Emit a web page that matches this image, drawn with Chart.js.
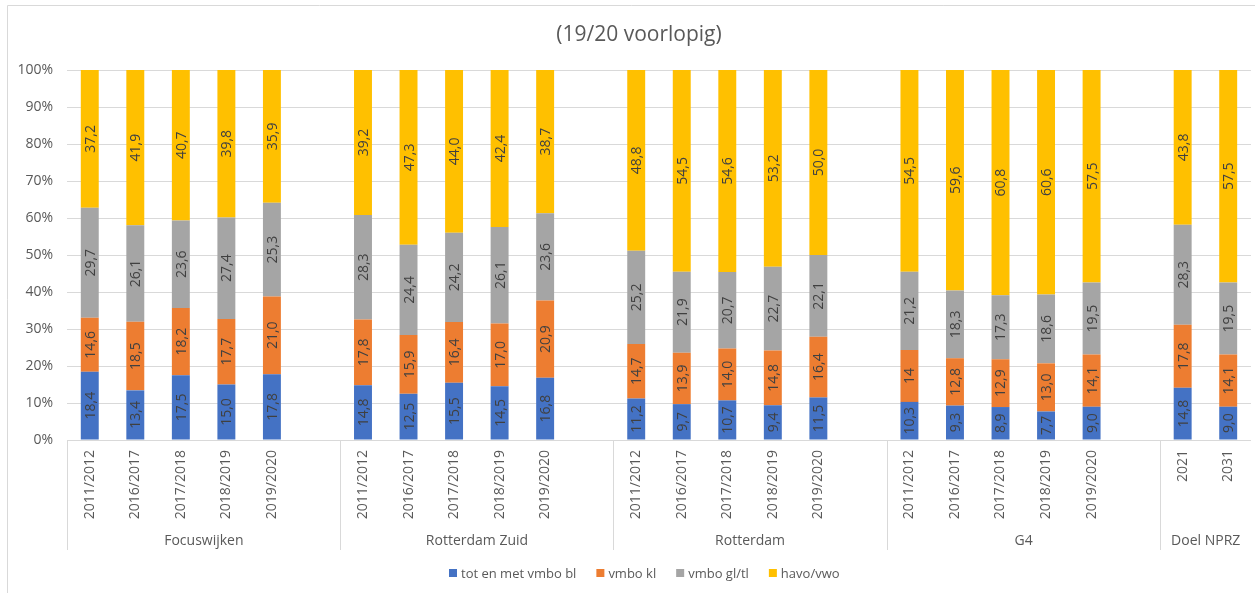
<!DOCTYPE html>
<html>
<head>
<meta charset="utf-8">
<script src="https://cdn.jsdelivr.net/npm/chart.js@4.4.1/dist/chart.umd.min.js"></script>
<style>
  html, body { margin: 0; padding: 0; background: #ffffff; }
  #wrap { position: relative; width: 1255px; height: 593px; }
  canvas { display: block; }
</style>
</head>
<body>
<div id="wrap"><canvas id="chart" width="1255" height="593"></canvas></div>
<script>
// Categories
const groupNames = ['Focuswijken', 'Rotterdam Zuid', 'Rotterdam', 'G4', 'Doel NPRZ'];
const schoolYears = ['2011/2012', '2016/2017', '2017/2018', '2018/2019', '2019/2020'];
const targetYears = ['2021', '2031'];
const seriesNames = ['tot en met vmbo bl', 'vmbo kl', 'vmbo gl/tl', 'havo/vwo'];
const chartTitle = '(19/20 voorlopig)';

// Shares per bar (group after group), written as they are printed on the bars
const totEnMetVmboBl = ['18.4', '13.4', '17.5', '15.0', '17.8',  '14.8', '12.5', '15.5', '14.5', '16.8',  '11.2', '9.7', '10.7', '9.4', '11.5',  '10.3', '9.3', '8.9', '7.7', '9.0',  '14.8', '9.0'];
const vmboKl        = ['14.6', '18.5', '18.2', '17.7', '21.0',  '17.8', '15.9', '16.4', '17.0', '20.9',  '14.7', '13.9', '14.0', '14.8', '16.4',  '14', '12.8', '12.9', '13.0', '14.1',  '17.8', '14.1'];
const vmboGlTl      = ['29.7', '26.1', '23.6', '27.4', '25.3',  '28.3', '24.4', '24.2', '26.1', '23.6',  '25.2', '21.9', '20.7', '22.7', '22.1',  '21.2', '18.3', '17.3', '18.6', '19.5',  '28.3', '19.5'];
const havoVwo       = ['37.2', '41.9', '40.7', '39.8', '35.9',  '39.2', '47.3', '44.0', '42.4', '38.7',  '48.8', '54.5', '54.6', '53.2', '50.0',  '54.5', '59.6', '60.8', '60.6', '57.5',  '43.8', '57.5'];

// Value axis ticks
const yTickValues = [0, 10, 20, 30, 40, 50, 60, 70, 80, 90, 100];

const seriesColors = ['#4472C4', '#ED7D31', '#A5A5A5', '#FFC000'];
const FONT = "'Open Sans', 'Noto Sans', sans-serif";
const TEXT = '#595959';
const LINE = '#d9d9d9';

// Build the category list: each group followed by one empty slot (except the last)
const groupYears = [schoolYears, schoolYears, schoolYears, schoolYears, targetYears];
const categories = [];
const slot = [];
const groupStart = [];
let k = 0;
groupYears.forEach((years, g) => {
  groupStart.push(categories.length);
  years.forEach(y => { categories.push(y); slot.push(k++); });
  if (g < groupYears.length - 1) { categories.push(''); slot.push(-1); }
});
const groupEnd = groupStart.slice(1).concat([categories.length]);

const series = [totEnMetVmboBl, vmboKl, vmboGlTl, havoVwo];
const totals = slot.map(s => s < 0 ? null : series.reduce((a, arr) => a + Number(arr[s]), 0));

const datasets = series.map((arr, i) => ({
  label: seriesNames[i],
  data: slot.map((s, j) => s < 0 ? null : Number(arr[s]) / totals[j] * 100),
  printed: slot.map(s => s < 0 ? null : arr[s].replace('.', ',')),
  backgroundColor: seriesColors[i],
  borderWidth: 0,
  barPercentage: 0.394,
  categoryPercentage: 1
}));

// The chart frame runs on past the right edge, so title and legend sit
// centred on the frame rather than on the canvas.
const FRAME_CENTER = 641;

// Outer frame of the chart and its title
const framePlugin = {
  id: 'frame',
  beforeDraw(chart) {
    const ctx = chart.ctx;
    ctx.save();
    ctx.strokeStyle = LINE;
    ctx.lineWidth = 1;
    ctx.beginPath();
    ctx.moveTo(7.5, chart.height);
    ctx.lineTo(7.5, 5.5);
    ctx.lineTo(chart.width, 5.5);
    ctx.stroke();
    ctx.font = '21px ' + FONT;
    ctx.fillStyle = TEXT;
    ctx.textAlign = 'center';
    ctx.textBaseline = 'middle';
    ctx.fillText(chartTitle, FRAME_CENTER - 2, 35);
    ctx.restore();
  }
};

// Legend row below the category axis
const legendRowPlugin = {
  id: 'legendRow',
  afterDraw(chart) {
    const ctx = chart.ctx;
    const box = 8, gap = 4, spacing = 20, y = 573;
    ctx.save();
    ctx.font = '13px ' + FONT;
    ctx.textBaseline = 'middle';
    ctx.textAlign = 'left';
    const items = chart.data.datasets.map(ds => ({
      text: ds.label, color: ds.backgroundColor, w: ctx.measureText(ds.label).width
    }));
    const total = items.reduce((a, it) => a + box + gap + it.w, 0) + spacing * (items.length - 1);
    let x = Math.round(FRAME_CENTER + 3 - total / 2);
    items.forEach(it => {
      ctx.fillStyle = it.color;
      ctx.fillRect(x, y - box / 2, box, box);
      ctx.fillStyle = TEXT;
      ctx.fillText(it.text, x + box + gap, y + 1);
      x += box + gap + it.w + spacing;
    });
    ctx.restore();
  }
};

// Values printed vertically in the middle of each segment
const barLabelPlugin = {
  id: 'barLabels',
  afterDatasetsDraw(chart) {
    const ctx = chart.ctx;
    ctx.save();
    ctx.font = '14px ' + FONT;
    ctx.fillStyle = '#404040';
    ctx.textAlign = 'center';
    ctx.textBaseline = 'middle';
    chart.data.datasets.forEach((ds, i) => {
      const meta = chart.getDatasetMeta(i);
      meta.data.forEach((bar, j) => {
        const txt = ds.printed[j];
        if (!txt) return;
        const p = bar.getProps(['x', 'y', 'base'], true);
        ctx.save();
        ctx.translate(p.x, (p.y + p.base) / 2);
        ctx.rotate(-Math.PI / 2);
        ctx.fillText(txt, 0, 1);
        ctx.restore();
      });
    });
    ctx.restore();
  }
};

// Second level of the category axis: group separators and group names
const groupAxisPlugin = {
  id: 'groupAxis',
  afterDraw(chart) {
    const ctx = chart.ctx;
    const xs = chart.scales.x;
    const half = (xs.getPixelForValue(1) - xs.getPixelForValue(0)) / 2;
    const top = chart.chartArea.bottom;
    ctx.save();
    ctx.strokeStyle = LINE;
    ctx.lineWidth = 1;
    ctx.font = '14px ' + FONT;
    ctx.fillStyle = TEXT;
    ctx.textAlign = 'center';
    ctx.textBaseline = 'middle';
    groupNames.forEach((name, g) => {
      const left = Math.round(xs.getPixelForValue(groupStart[g]) - half) + 0.5;
      const right = xs.getPixelForValue(groupEnd[g] - 1) + half;
      ctx.beginPath();
      ctx.moveTo(left, top);
      ctx.lineTo(left, top + 110);
      ctx.stroke();
      ctx.fillText(name, (left + right) / 2, top + 101);
    });
    ctx.restore();
  }
};

new Chart(document.getElementById('chart'), {
  type: 'bar',
  data: { labels: categories, datasets },
  plugins: [framePlugin, barLabelPlugin, groupAxisPlugin, legendRowPlugin],
  options: {
    responsive: false,
    animation: false,
    layout: { padding: { left: 0, right: 0, top: 70, bottom: 47 } },
    plugins: {
      tooltip: { enabled: false },
      title: { display: false },
      legend: { display: false }
    },
    scales: {
      x: {
        stacked: true,
        grid: { display: false, drawTicks: false },
        border: { display: false },
        ticks: {
          color: TEXT,
          font: { family: FONT, size: 14 },
          minRotation: 90,
          maxRotation: 90,
          autoSkip: false,
          padding: 10
        },
        afterFit(scale) { scale.height = 106; }
      },
      y: {
        stacked: true,
        min: 0,
        max: 100,
        afterBuildTicks(scale) { scale.ticks = yTickValues.map(v => ({ value: v })); },
        grid: { color: LINE, drawTicks: false },
        border: { display: false },
        ticks: {
          color: TEXT,
          font: { family: FONT, size: 14 },
          padding: 14,
          callback: v => v + '%'
        },
        afterFit(scale) { scale.width = 67; }
      }
    }
  }
});
</script>
</body>
</html>
